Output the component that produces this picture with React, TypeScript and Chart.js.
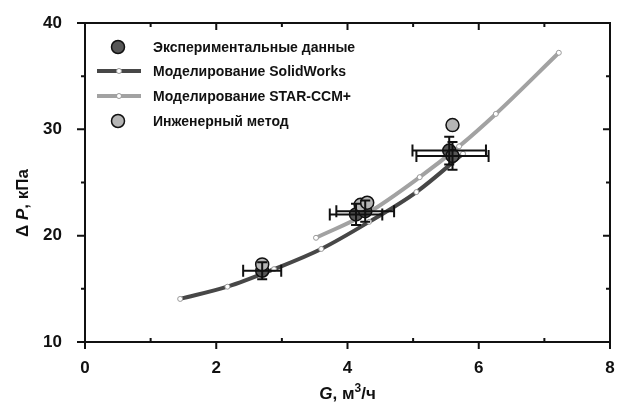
import React, { useEffect, useRef } from "react";
import { Chart, registerables } from "chart.js";
Chart.register(...registerables);

// SolidWorks simulation curve
const solidG = [1.45, 2.17, 2.88, 3.6, 4.33, 5.05, 5.76];
const solidP = [14.05, 15.2, 16.85, 18.75, 21.3, 24.1, 27.7];
// STAR-CCM+ simulation curve
const starG = [3.52, 4.3, 5.1, 5.7, 6.26, 7.22];
const starP = [19.8, 22.1, 25.5, 28.4, 31.45, 37.2];
// Experimental data with errors
const expG = [2.7, 4.13, 4.27, 5.55, 5.6];
const expP = [16.7, 22.0, 22.3, 28.0, 27.5];
const expErrG = [0.29, 0.4, 0.44, 0.56, 0.55];
const expErrP = [0.8, 1.0, 1.0, 1.3, 1.3];
// Engineering method
const engG = [2.7, 4.2, 4.3, 5.6];
const engP = [17.3, 22.9, 23.1, 30.4];

const xTicks = [0, 2, 4, 6, 8];
const xMinor = [1, 3, 5, 7];
const yTicks = [10, 20, 30, 40];
const yMinor = [15, 25, 35];

const legendLabels = [
  "Экспериментальные данные",
  "Моделирование SolidWorks",
  "Моделирование STAR-CCM+",
  "Инженерный метод",
];

const DARK = "#474747";
const LIGHT = "#a2a2a2";
const EXP_FILL = "#575757";
const ENG_FILL = "#b5b5b5";
const FONT = "'Liberation Sans', Arial, sans-serif";

const toXY = (xs: number[], ys: number[]) => xs.map((x, i) => ({ x, y: ys[i] }));

const framePlugin = {
  id: "frame",
  afterDraw(chart: any) {
    const { ctx, chartArea: a, scales } = chart;
    const xs = scales.x;
    const ys = scales.y;
    ctx.save();
    ctx.strokeStyle = "#111";
    ctx.lineWidth = 2;
    ctx.strokeRect(a.left, a.top, a.right - a.left, a.bottom - a.top);
    ctx.lineWidth = 2;
    ctx.beginPath();
    xTicks.forEach((v) => {
      const p = xs.getPixelForValue(v);
      ctx.moveTo(p, a.bottom); ctx.lineTo(p, a.bottom + 7);
      ctx.moveTo(p, a.top); ctx.lineTo(p, a.top + 7);
    });
    xMinor.forEach((v) => {
      const p = xs.getPixelForValue(v);
      ctx.moveTo(p, a.bottom); ctx.lineTo(p, a.bottom - 4);
      ctx.moveTo(p, a.top); ctx.lineTo(p, a.top + 4);
    });
    yTicks.forEach((v) => {
      const p = ys.getPixelForValue(v);
      ctx.moveTo(a.left - 8, p); ctx.lineTo(a.left, p);
      ctx.moveTo(a.right, p); ctx.lineTo(a.right - 7, p);
    });
    yMinor.forEach((v) => {
      const p = ys.getPixelForValue(v);
      ctx.moveTo(a.left - 4, p); ctx.lineTo(a.left, p);
      ctx.moveTo(a.right, p); ctx.lineTo(a.right - 4, p);
    });
    ctx.stroke();

    // axis titles
    ctx.fillStyle = "#111";
    ctx.textBaseline = "alphabetic";
    // x title: G, м³/ч
    const parts: [string, string, number][] = [
      ["G", `italic bold 17px ${FONT}`, 0],
      [", м", `bold 17px ${FONT}`, 0],
      ["3", `bold 12px ${FONT}`, -7],
      ["/ч", `bold 17px ${FONT}`, 0],
    ];
    let total = 0;
    parts.forEach(([t, f]) => { ctx.font = f; total += ctx.measureText(t).width; });
    let cx = (a.left + a.right) / 2 - total / 2;
    const by = 399;
    parts.forEach(([t, f, dy]) => {
      ctx.font = f;
      ctx.textAlign = "left";
      ctx.fillText(t, cx, by + dy);
      cx += ctx.measureText(t).width;
    });
    // y title: Δ P, кПа
    ctx.save();
    ctx.translate(28, 203);
    ctx.rotate(-Math.PI / 2);
    const yparts: [string, string][] = [
      ["Δ ", `bold 17px ${FONT}`],
      ["P", `italic bold 17px ${FONT}`],
      [", кПа", `bold 17px ${FONT}`],
    ];
    let ytotal = 0;
    yparts.forEach(([t, f]) => { ctx.font = f; ytotal += ctx.measureText(t).width; });
    let yx = -ytotal / 2;
    yparts.forEach(([t, f]) => {
      ctx.font = f;
      ctx.fillText(t, yx, 0);
      yx += ctx.measureText(t).width;
    });
    ctx.restore();

    // legend
    const lx = a.left;
    const rows = [47, 71, 96, 121];
    ctx.font = `bold 14px ${FONT}`;
    ctx.textAlign = "left";
    ctx.textBaseline = "middle";
    rows.forEach((ry, i) => {
      if (i === 0 || i === 3) {
        ctx.beginPath();
        ctx.arc(lx + 33, ry, 6.5, 0, Math.PI * 2);
        ctx.fillStyle = i === 0 ? EXP_FILL : ENG_FILL;
        ctx.fill();
        ctx.lineWidth = 1.5;
        ctx.strokeStyle = "#111";
        ctx.stroke();
      } else {
        ctx.beginPath();
        ctx.moveTo(lx + 12, ry);
        ctx.lineTo(lx + 56, ry);
        ctx.lineWidth = 4;
        ctx.strokeStyle = i === 1 ? DARK : LIGHT;
        ctx.stroke();
        ctx.beginPath();
        ctx.arc(lx + 34, ry, 2.5, 0, Math.PI * 2);
        ctx.fillStyle = "#fff";
        ctx.fill();
        ctx.lineWidth = 1;
        ctx.strokeStyle = "#999";
        ctx.stroke();
      }
      ctx.fillStyle = "#111";
      ctx.fillText(legendLabels[i], lx + 68, ry + 1);
    });
    ctx.restore();
  },
};

const errorBarPlugin = {
  id: "errbars",
  afterDatasetsDraw(chart: any) {
    const { ctx, scales } = chart;
    const xs = scales.x;
    const ys = scales.y;
    ctx.save();
    ctx.strokeStyle = "#111";
    ctx.lineWidth = 2;
    expG.forEach((g, i) => {
      const p = expP[i];
      const px = xs.getPixelForValue(g);
      const py = ys.getPixelForValue(p);
      const x1 = xs.getPixelForValue(g - expErrG[i]);
      const x2 = xs.getPixelForValue(g + expErrG[i]);
      const y1 = ys.getPixelForValue(p - expErrP[i]);
      const y2 = ys.getPixelForValue(p + expErrP[i]);
      ctx.beginPath();
      ctx.moveTo(x1, py); ctx.lineTo(x2, py);
      ctx.moveTo(x1, py - 6); ctx.lineTo(x1, py + 6);
      ctx.moveTo(x2, py - 6); ctx.lineTo(x2, py + 6);
      ctx.moveTo(px, y1); ctx.lineTo(px, y2);
      ctx.moveTo(px - 5, y1); ctx.lineTo(px + 5, y1);
      ctx.moveTo(px - 5, y2); ctx.lineTo(px + 5, y2);
      ctx.stroke();
    });
    ctx.restore();
  },
};

export default function App() {
  const ref = useRef<HTMLCanvasElement | null>(null);
  useEffect(() => {
    if (!ref.current) return;
    const chart = new Chart(ref.current, {
      type: "scatter",
      data: {
        datasets: [
          {
            label: legendLabels[0],
            data: toXY(expG, expP),
            pointRadius: 6.5,
            pointBackgroundColor: EXP_FILL,
            pointBorderColor: "#111",
            pointBorderWidth: 1.5,
            showLine: false,
            order: 2,
          },
          {
            label: legendLabels[1],
            data: toXY(solidG, solidP),
            showLine: true,
            borderColor: DARK,
            borderWidth: 4,
            tension: 0.4,
            cubicInterpolationMode: "monotone",
            pointRadius: 2.5,
            pointBackgroundColor: "#fff",
            pointBorderColor: "#999",
            pointBorderWidth: 1,
            order: 4,
          },
          {
            label: legendLabels[2],
            data: toXY(starG, starP),
            showLine: true,
            borderColor: LIGHT,
            borderWidth: 4,
            tension: 0.4,
            cubicInterpolationMode: "monotone",
            pointRadius: 2.5,
            pointBackgroundColor: "#fff",
            pointBorderColor: "#999",
            pointBorderWidth: 1,
            order: 3,
          },
          {
            label: legendLabels[3],
            data: toXY(engG, engP),
            pointRadius: 6.5,
            pointBackgroundColor: ENG_FILL,
            pointBorderColor: "#111",
            pointBorderWidth: 1.5,
            showLine: false,
            order: 1,
          },
        ],
      } as any,
      options: {
        animation: false,
        responsive: true,
        maintainAspectRatio: false,
        layout: { padding: { top: 23, right: 6, left: 0, bottom: 0 } },
        plugins: { legend: { display: false }, tooltip: { enabled: false } },
        scales: {
          x: {
            type: "linear",
            min: 0,
            max: 8,
            grid: { display: false },
            border: { display: false },
            afterFit: (s: any) => { s.height = 62; s.paddingLeft = 0; s.paddingRight = 0; },
            afterBuildTicks: (s: any) => { s.ticks = xTicks.map((v) => ({ value: v })); },
            ticks: { color: "#111", font: { family: FONT, size: 17, weight: "bold" }, padding: 8 },
          },
          y: {
            type: "linear",
            min: 10,
            max: 40,
            grid: { display: false },
            border: { display: false },
            afterFit: (s: any) => { s.width = 85; s.paddingTop = 0; s.paddingBottom = 0; },
            afterBuildTicks: (s: any) => { s.ticks = yTicks.map((v) => ({ value: v })); },
            ticks: { color: "#111", font: { family: FONT, size: 17, weight: "bold" }, padding: 15 },
          },
        },
      } as any,
      plugins: [framePlugin, errorBarPlugin],
    });
    return () => chart.destroy();
  }, []);
  return (
    <div style={{ position: "fixed", left: 0, top: 0, width: 618, height: 404, background: "#fff" }}>
      <canvas ref={ref} />
    </div>
  );
}
